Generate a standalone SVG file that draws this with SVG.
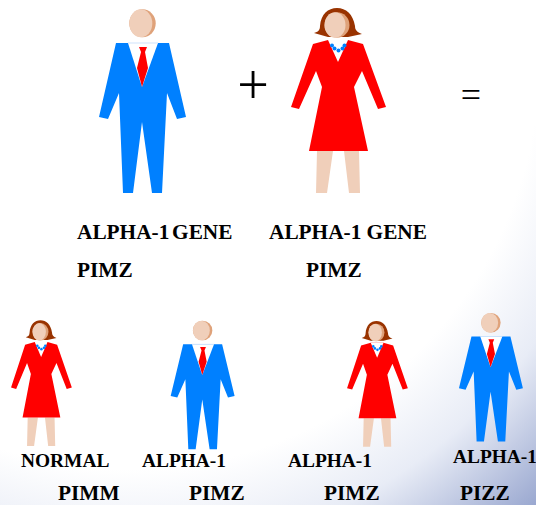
<svg xmlns="http://www.w3.org/2000/svg" xmlns:xlink="http://www.w3.org/1999/xlink" width="536" height="505" viewBox="0 0 536 505">
<style>
.suit{fill:#0080ff}.red{fill:#ff0000}.shirt{fill:#ffffff}.skin{fill:#f0cfba}.shade{fill:#dfa27a}.hair{fill:#993300}.bead{fill:#0080ff}
text{font-family:"Liberation Serif","Times New Roman",serif;font-weight:bold;fill:#000}
.big{font-size:21.3px}.small{font-size:19.4px}
.op{font-weight:normal}
</style>
<defs>
<radialGradient id="bg" gradientUnits="userSpaceOnUse" cx="130" cy="60" r="602">
<stop offset="0" stop-color="#ffffff"/><stop offset="0.68" stop-color="#ffffff"/><stop offset="0.82" stop-color="#e8ecf6"/><stop offset="1" stop-color="#9aa8d0"/>
</radialGradient>
<g id="man">
<ellipse class="shade" cx="142.500" cy="23.300" rx="13.200" ry="14"/>
<ellipse class="skin" cx="140.800" cy="23.300" rx="11.500" ry="14"/>
<path class="suit" d="M116 43H169L186 117L177 119L167 93L162 193H152L142 122L133 193H123L119 93L108 119L99 117Z"/>
<path class="shirt" d="M128 43H158L142 87Z"/>
<path d="M128 43H158" stroke="#cfe3fb" stroke-width="1" fill="none"/>
<path class="red" d="M139 47H147L145 52L148 68L142 87L137 68L141 52Z"/>
</g>
<g id="woman">
<path class="skin" d="M317 151H333L327 193H316ZM344 151H359L360 193H349Z"/>
<path class="hair" d="M314 33C318 32 320 30 320 26C321 14 328 8 337 8C346 8 353 14 355 26C355 30 357 32 362 34L348 37H328Z"/>
<ellipse class="shade" cx="337" cy="25" rx="12.500" ry="12.800"/>
<ellipse class="skin" cx="335" cy="25" rx="10.500" ry="12.800"/>
<path class="red" d="M313 44L328 40H348L363 44L386 107L378 109L362 71L354 87L368 151H309L322 87L316 71L299 109L291 107Z"/>
<path class="shirt" d="M328 40H348L338 62Z"/>
<g class="bead"><circle cx="332" cy="45.500" r="2"/><circle cx="334.500" cy="48.500" r="2"/><circle cx="338.500" cy="50.500" r="2"/><circle cx="342.500" cy="48.500" r="2"/><circle cx="344.500" cy="45.500" r="2"/></g>
</g>
</defs>
<rect id="background" width="536" height="505" fill="url(#bg)"/>
<g id="father"><use xlink:href="#man" href="#man"/></g>
<g id="mother"><use xlink:href="#woman" href="#woman"/></g>
<g id="child-1"><use xlink:href="#woman" href="#woman" transform="translate(-175.200 314.800) scale(.64 .68)"/></g>
<g id="child-2"><use xlink:href="#man" href="#man" transform="translate(97.900 314.200) scale(.735 .7)"/></g>
<g id="child-3"><use xlink:href="#woman" href="#woman" transform="translate(160.800 315.500) scale(.64 .68)"/></g>
<g id="child-4"><use xlink:href="#man" href="#man" transform="translate(386.200 306.400) scale(.735 .7)"/></g>
<g id="labels">
<text class="op" x="253" y="104" font-size="56" text-anchor="middle">+</text>
<text class="op" x="471" y="106.500" font-size="36" text-anchor="middle">=</text>
<text class="big" x="77" y="239" word-spacing="-2.500">ALPHA-1 GENE</text>
<text class="big" x="269" y="239">ALPHA-1 GENE</text>
<text class="big" x="77" y="277">PIMZ</text>
<text class="big" x="306" y="277">PIMZ</text>
<text class="small" x="21" y="467">NORMAL</text>
<text class="small" x="142" y="467">ALPHA-1</text>
<text class="small" x="288" y="467">ALPHA-1</text>
<text class="small" x="453" y="463">ALPHA-1</text>
<text class="big" x="58" y="500">PIMM</text>
<text class="big" x="189" y="500">PIMZ</text>
<text class="big" x="324" y="500">PIMZ</text>
<text class="big" x="460" y="500">PIZZ</text>
</g>
</svg>
